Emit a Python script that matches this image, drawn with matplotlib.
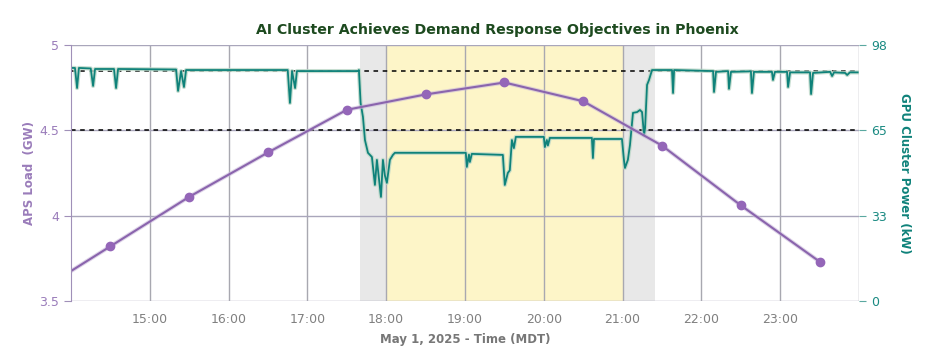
import matplotlib.pyplot as plt

# APS load (GW), hourly points at the half hour (13:30 point runs off the left edge)
aps_hours = [13.5, 14.5, 15.5, 16.5, 17.5, 18.5, 19.5, 20.5, 21.5, 22.5, 23.5]
aps_load = [3.53, 3.82, 4.11, 4.37, 4.62, 4.71, 4.78, 4.67, 4.41, 4.06, 3.73]

# GPU cluster power (kW), minutes after 14:00
gpu_minutes = [0, 3, 4.6, 6, 15, 16.8, 18.3, 32.7, 34.3, 35.8, 80, 81.5, 83.8, 86, 87.6,
               165, 166.7, 168.3, 170.6, 172, 218.5,
               219.2, 220.5, 222.3, 223.8, 226.1, 229.1, 231.4, 232.9, 236, 237.5, 239, 240.5,
               242.8, 245.1, 246.6, 300.6, 301.4, 303, 303.7, 305.2, 328.8, 330.3, 332.6, 334.1,
               335.7, 337.2, 338.7, 360, 360.8, 362.3, 363.1, 364.6, 396.6, 397.4, 398.2, 419.5,
               421, 421.8, 424, 425.6, 427.9, 431, 433.2, 434.8, 436.3, 437.1, 438.6, 440.1, 442.4,
               457.6, 458.4, 459.2, 488.9, 489.6, 491.1, 500.3, 501, 502.5, 517.7, 518.5, 520,
               533.7, 534.5, 536, 545.2, 546, 547.5, 562.7, 563.5, 565, 578, 579.5, 581, 589.4,
               591, 593, 599]
gpu_power = [89.2, 89.2, 81.5, 89.2, 89.0, 82.3, 88.8, 88.8, 81.5, 88.8, 88.6, 80.4, 88.0, 81.9, 88.4,
             88.4, 75.8, 88.0, 81.5, 88.0, 88.0,
             88.4, 75.8, 70.4, 61.6, 56.7, 55.1, 44.4, 54.0, 39.8, 54.0, 48.0, 45.2,
             54.0, 55.9, 56.7, 56.7, 51.3, 56.0, 53.2, 56.3, 55.9, 44.4, 49.0, 50.0,
             61.6, 58.5, 62.8, 62.8, 58.9, 61.6, 59.5, 62.4, 62.4, 54.7, 62.0, 62.0,
             54.0, 50.9, 54.0, 59.7, 72.0, 72.3, 73.1, 72.3, 63.5, 66.2, 82.7, 84.6, 88.4,
             88.4, 79.6, 88.4, 88.0, 80.0, 87.7, 88.0, 81.2, 87.7, 87.9, 79.6, 87.7,
             87.7, 84.6, 87.7, 87.7, 81.9, 87.5, 87.5, 79.2, 87.3, 87.7, 86.1, 87.5, 87.3,
             86.5, 87.5, 87.5]
gpu_hours = [14 + m / 60 for m in gpu_minutes]

ramp_windows = [(17 + 40 / 60, 18), (21, 21 + 25 / 60)]
event_window = (18, 21)
targets = [88, 65.33]

hour_ticks = list(range(15, 25))
hour_labels = ['%d:00' % h for h in range(15, 24)] + ['']
gw_ticks = [3.5, 4, 4.5, 5]
gw_labels = ['3.5', '4', '4.5', '5']
kw_ticks = [0, 98 / 3, 2 * 98 / 3, 98]
kw_labels = ['0', '33', '65', '98']

purple = '#8a64ad'
purple_txt = '#9a7cba'
teal = '#0f827a'
teal_txt = '#1a8a82'

fig = plt.figure(figsize=(9.42, 3.54), dpi=100)
ax = fig.add_axes([0.0754, 0.150, 0.8365, 0.723])
ax2 = ax.twinx()

# left axis on top so the purple line sits above the teal one
ax.set_zorder(ax2.get_zorder() + 1)
ax.patch.set_visible(False)
ax2.patch.set_visible(True)
ax2.patch.set_facecolor('white')

for a, b in ramp_windows:
    ax2.axvspan(a, b, color='#e8e8e8', zorder=0, lw=0)
ax2.axvspan(event_window[0], event_window[1], color='#fdf5c8', zorder=0, lw=0)

for h in hour_ticks:
    ax2.axvline(h, color='#a8a8b0', lw=1, zorder=1)
for t in kw_ticks:
    ax2.axhline(t, color='#a9a6bb', lw=1, zorder=1)
for t in targets:
    ax2.axhline(t, color='black', lw=1.1, ls=(0, (3, 3)), zorder=2)

ax2.plot(gpu_hours, gpu_power, color='#b9d6c6', lw=3.0, alpha=0.8, zorder=3)
ax2.plot(gpu_hours, gpu_power, color=teal, lw=1.3, zorder=4)

ax.plot(aps_hours, aps_load, color='#c9b8da', lw=3, alpha=0.6)
ax.plot(aps_hours, aps_load, color=purple, lw=1.5, marker='o', markersize=6,
        markerfacecolor='#9466b8', markeredgecolor='#9466b8')

ax.set_xlim(14, 24)
ax.set_ylim(3.5, 5)
ax2.set_ylim(0, 98)

ax.set_xticks(hour_ticks)
ax.set_xticklabels(hour_labels)
ax.set_yticks(gw_ticks)
ax.set_yticklabels(gw_labels)
ax2.set_yticks(kw_ticks)
ax2.set_yticklabels(kw_labels)

ax.tick_params(axis='x', length=0, labelsize=9, labelcolor='#808080', pad=9)
ax.tick_params(axis='y', length=5, color='#a090b8', labelsize=9, labelcolor=purple_txt)
ax2.tick_params(axis='y', length=5, color='#5aa8a0', labelsize=9, labelcolor=teal_txt)

for a in (ax, ax2):
    for s in a.spines.values():
        s.set_visible(False)
ax.spines['left'].set_visible(True)
ax.spines['left'].set_color('#a090b8')

ax.set_ylabel('APS Load  (GW)', color=purple_txt, fontsize=8.5, fontweight='bold')
ax.yaxis.set_label_coords(-0.045, 0.5)
ax2.set_ylabel('GPU Cluster Power (kW)', color=teal, fontsize=8.5, fontweight='bold',
               rotation=270, va='center')
ax2.yaxis.set_label_coords(1.058, 0.5)
ax.set_xlabel('May 1, 2025 - Time (MDT)', color='#777777', fontsize=8.5, fontweight='bold')
ax.xaxis.set_label_coords(0.5, -0.125)

fig.text(0.528, 0.915, 'AI Cluster Achieves Demand Response Objectives in Phoenix',
         ha='center', va='center', fontsize=10.2, fontweight='bold', color='#1d4a1f')

plt.savefig('out.png', dpi=100)
